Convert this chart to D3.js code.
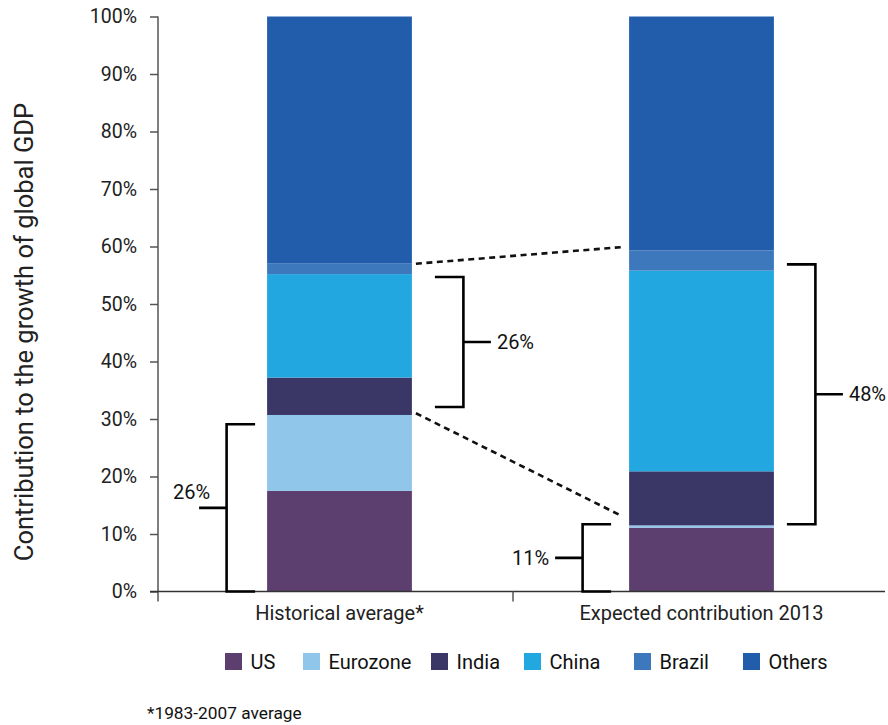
<!DOCTYPE html>
<html>
<head>
<meta charset="utf-8">
<script src="https://cdn.jsdelivr.net/npm/d3@7"></script>
<style>
  html, body { margin: 0; padding: 0; background: #fff; }
  svg { display: block; font-family: Roboto, "Noto Sans", sans-serif; }
</style>
</head>
<body>
<svg id="chart" width="888" height="725"></svg>
<script>
// ---------- data ----------
const categories = ["Historical average*", "Expected contribution 2013"];
const seriesNames = ["US", "Eurozone", "India", "China", "Brazil", "Others"];
const US       = [17.5, 11.1];
const Eurozone = [13.2, 0.4];
const India    = [6.5, 9.4];
const China    = [18.0, 34.9];
const Brazil   = [1.9, 3.5];
const Others   = [42.9, 40.7];
const yTicks = [0, 10, 20, 30, 40, 50, 60, 70, 80, 90, 100];
const yTickLabels = ["0%", "10%", "20%", "30%", "40%", "50%", "60%", "70%", "80%", "90%", "100%"];
const yTitle = "Contribution to the growth of global GDP";
const footnote = "*1983-2007 average";
// brackets: [category index, side, from %, to %, label]
const bracketCat   = [0, 0, 1, 1];
const bracketSide  = ["left", "right", "left", "right"];
const bracketFrom  = [0, 32.1, 0, 11.7];
const bracketTo    = [29.1, 54.7, 11.7, 56.9];
const bracketLabel = ["26%", "26%", "11%", "48%"];
// dotted connectors between bars: level on left bar -> level on right bar
const connFrom = [57.0, 31.0];
const connTo   = [59.9, 13.1];

const colors = ["#5d3f6f", "#8fc6ea", "#3a3767", "#22a7e0", "#3d78bd", "#225dab"];
const seriesValues = [US, Eurozone, India, China, Brazil, Others];

// ---------- build table ----------
const table = categories.map((c, i) => {
  const row = { cat: c };
  seriesNames.forEach((s, j) => row[s] = seriesValues[j][i]);
  return row;
});
const stacked = d3.stack().keys(seriesNames)(table);

const svg = d3.select("#chart");

const y = d3.scaleLinear().domain([0, 100]).range([591.5, 16.5]);
const x = d3.scaleBand().domain(categories).range([158.5, 882.5])
  .paddingInner(0.6).paddingOuter(0.3);

// ---------- bars ----------
const g = svg.append("g");
g.selectAll("g.series").data(stacked).join("g")
  .attr("fill", (d, i) => colors[i])
  .selectAll("rect").data(d => d).join("rect")
  .attr("x", d => x(d.data.cat))
  .attr("width", x.bandwidth())
  .attr("y", d => y(d[1]))
  .attr("height", d => y(d[0]) - y(d[1]));

// ---------- y axis ----------
const axisColor = "#555";
const yAxis = svg.append("g").attr("transform", "translate(158,0)")
  .call(d3.axisLeft(y).tickValues(yTicks).tickFormat((d, i) => yTickLabels[i])
    .tickSize(8).tickSizeOuter(0).tickPadding(13));
yAxis.select(".domain").remove();
yAxis.selectAll(".tick line").attr("stroke", axisColor).attr("stroke-width", 1.5);
yAxis.selectAll(".tick text").attr("font-size", 19.5).attr("fill", "#222")
  .attr("font-family", "Roboto, sans-serif");
svg.append("line").attr("x1", 158).attr("x2", 158)
  .attr("y1", y(100)).attr("y2", y(0) + 10)
  .attr("stroke", axisColor).attr("stroke-width", 1.5);

// ---------- x axis ----------
const xAxis = svg.append("g").attr("transform", `translate(0,${y(0)})`)
  .call(d3.axisBottom(x).tickSize(0).tickPadding(14));
xAxis.select(".domain").remove();
xAxis.selectAll(".tick text").attr("font-size", 20).attr("fill", "#222")
  .attr("font-family", "Roboto, sans-serif");
svg.append("line").attr("x1", 150).attr("x2", 885)
  .attr("y1", y(0)).attr("y2", y(0))
  .attr("stroke", "#333").attr("stroke-width", 1.5);
const dividerX = 513;
svg.append("line").attr("x1", dividerX).attr("x2", dividerX)
  .attr("y1", y(0)).attr("y2", y(0) + 10)
  .attr("stroke", axisColor).attr("stroke-width", 1.5);

// ---------- y title ----------
svg.append("text")
  .attr("transform", `translate(33,${(y(0) + y(100)) / 2 + 28}) rotate(-90)`)
  .attr("text-anchor", "middle")
  .attr("font-size", 25.5).attr("fill", "#222")
  .text(yTitle);

// ---------- dotted connectors ----------
const leftBarRight = x(categories[0]) + x.bandwidth();
const rightBarLeft = x(categories[1]);
connFrom.forEach((f, i) => {
  svg.append("line")
    .attr("x1", leftBarRight + 4).attr("y1", y(f))
    .attr("x2", rightBarLeft - 7).attr("y2", y(connTo[i]))
    .attr("stroke", "#111").attr("stroke-width", 2.6)
    .attr("stroke-dasharray", "6,4.5");
});

// ---------- brackets ----------
const gaps = [12, 23, 18, 13];
const armLen = 28.5, tickLen = 27.5;
bracketFrom.forEach((f, i) => {
  const cat = categories[bracketCat[i]];
  const side = bracketSide[i];
  const yTop = y(bracketTo[i]), yBot = y(f), yMid = (yTop + yBot) / 2;
  let spineX, armEnd, tickEnd;
  if (side === "left") {
    armEnd = x(cat) - gaps[i];
    spineX = armEnd - armLen;
    tickEnd = spineX - tickLen;
  } else {
    armEnd = x(cat) + x.bandwidth() + gaps[i];
    spineX = armEnd + armLen;
    tickEnd = spineX + tickLen;
  }
  const path = d3.path();
  path.moveTo(armEnd, yTop); path.lineTo(spineX, yTop);
  path.lineTo(spineX, yBot); path.lineTo(armEnd, yBot);
  path.moveTo(spineX, yMid); path.lineTo(tickEnd, yMid);
  svg.append("path").attr("d", path.toString())
    .attr("fill", "none").attr("stroke", "#000").attr("stroke-width", 2.6);
  const t = svg.append("text").attr("font-size", 20).attr("fill", "#111")
    .text(bracketLabel[i]);
  if (side === "right") {
    t.attr("x", tickEnd + 6).attr("y", yMid).attr("dy", "0.35em");
  } else if (i === 0) {
    t.attr("x", tickEnd + 11).attr("y", yMid - 9).attr("text-anchor", "end");
  } else {
    t.attr("x", tickEnd - 6).attr("y", yMid).attr("dy", "0.35em").attr("text-anchor", "end");
  }
});

// ---------- legend ----------
const legendX = [225, 303, 431, 524, 634, 743];
const legend = svg.append("g").attr("transform", "translate(0,653)");
seriesNames.forEach((s, i) => {
  const item = legend.append("g").attr("transform", `translate(${legendX[i]},0)`);
  item.append("rect").attr("width", 17).attr("height", 17).attr("fill", colors[i]);
  item.append("text").attr("x", 25.5).attr("y", 8.5).attr("dy", "0.36em")
    .attr("font-size", 20).attr("fill", "#111").text(s);
});

// ---------- footnote ----------
svg.append("text").attr("x", 147).attr("y", 719)
  .attr("font-size", 17.3).attr("fill", "#111").text(footnote);
</script>
</body>
</html>
